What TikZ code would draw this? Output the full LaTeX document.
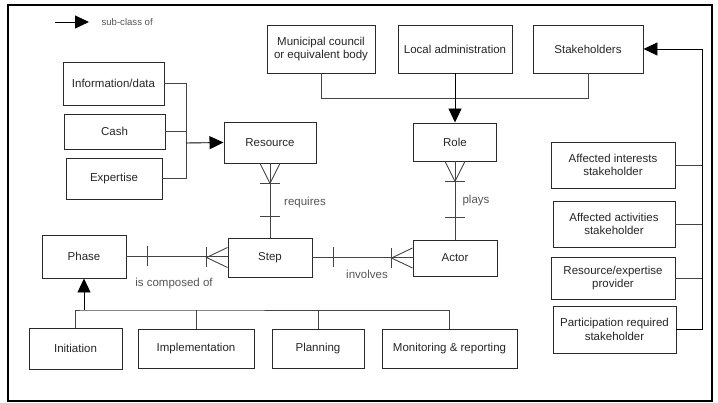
\documentclass[tikz,border=0pt]{standalone}
\usepackage{fontspec}
\setmainfont{Liberation Sans}
\usetikzlibrary{arrows.meta,calc}
\definecolor{boxline}{HTML}{2A2A2A}
\definecolor{conn}{HTML}{444444}
\definecolor{lbl}{HTML}{555555}
\tikzset{
  box/.style={draw=boxline, line width=0.95pt, rectangle, align=center, inner sep=2pt,
    font=\fontsize{11.5}{13.5}\selectfont, text=black!85},
  conline/.style={draw=conn, line width=0.9pt},
  subarrow/.style={conline, -{Triangle[length=14pt,width=13pt]}},
  rel/.style={text=lbl, font=\fontsize{11.5}{13}\selectfont},
}
\begin{document}
\begin{tikzpicture}[x=1pt,y=-1pt]
\useasboundingbox (0,0) rectangle (718,403);
\draw[line width=2.5pt, black] (8,5) rectangle (712,401);

% legend
\coordinate (lg1) at (55,22);
\coordinate (lg2) at (89,22);
\draw[subarrow, draw=black] (lg1) -- (lg2);
\node[anchor=west, text=lbl, font=\fontsize{9.6}{11}\selectfont] (lgt) at (98,22) {sub-class of};

% resource family
\node[box, minimum width=101pt, minimum height=43pt] (info) at (113.5,83.5) {Information/data};
\node[box, minimum width=101pt, minimum height=35pt] (cash) at (114.5,131.5) {Cash};
\node[box, minimum width=96pt, minimum height=41pt] (expertise) at (114,178.5) {Expertise};
\node[box, minimum width=92pt, minimum height=41pt] (resource) at (270,142.5) {Resource};
\coordinate (rbus) at (186,143);
\draw[conline] (info.east) -| (rbus);
\draw[conline] (cash.east) -| (rbus);
\draw[conline] (expertise.east) -| (rbus);
\draw[subarrow, draw=black] (rbus) -- (resource.west);

% top row
\node[box, minimum width=108pt, minimum height=48pt] (municipal) at (321,49) {Municipal council\\or equivalent body};
\node[box, minimum width=114pt, minimum height=48pt] (localadmin) at (455,49) {Local administration};
\node[box, minimum width=110pt, minimum height=48pt] (stake) at (588,49) {Stakeholders};
\node[box, minimum width=83pt, minimum height=38pt] (role) at (455,142) {Role};
\coordinate (tbusL) at (321,98);
\coordinate (tbusR) at (588,98);
\draw[conline] (municipal.south) -- (tbusL) -- (tbusR) -- (stake.south);
\draw[subarrow, draw=black] (localadmin.south) -- (role.north);

% step / actor / phase
\node[box, minimum width=84pt, minimum height=39pt] (step) at (270,257.5) {Step};
\node[box, minimum width=84pt, minimum height=36pt] (actor) at (455,258) {Actor};
\node[box, minimum width=84pt, minimum height=43pt] (phase) at (84,256.5) {Phase};

% resource - step (requires)
\draw[conline] (resource.south) -- (step.north);
\draw[conline] ($(resource.south)+(-10,0)$) -- ($(resource.south)+(0,20)$) -- ($(resource.south)+(10,0)$);
\draw[conline] ($(resource.south)+(-10,20)$) -- ($(resource.south)+(10,20)$);
\draw[conline] ($(step.north)+(-10,-21)$) -- ($(step.north)+(10,-21)$);
\node[rel] (lreq) at (305,203) {requires};

% role - actor (plays)
\draw[conline] (role.south) -- (actor.north);
\draw[conline] ($(role.south)+(-10,0)$) -- ($(role.south)+(0,20)$) -- ($(role.south)+(10,0)$);
\draw[conline] ($(role.south)+(-10,20)$) -- ($(role.south)+(10,20)$);
\draw[conline] ($(actor.north)+(-10,-22)$) -- ($(actor.north)+(10,-22)$);
\node[rel] (lplays) at (476,201) {plays};

% step - actor (involves)
\draw[conline] (step.east) -- (step.east -| actor.west);
\draw[conline] ($(actor.west)+(0,-10)$) -- ($(actor.west)+(-21,0)$) -- ($(actor.west)+(0,10)$);
\draw[conline] ($(actor.west)+(-21,-10)$) -- ($(actor.west)+(-21,10)$);
\draw[conline] ($(step.east)+(21,-10)$) -- ($(step.east)+(21,10)$);
\node[rel] (linv) at (367,274) {involves};

% phase - step (is composed of)
\draw[conline] (phase.east) -- (phase.east -| step.west);
\draw[conline] ($(step.west)+(0,-10)$) -- ($(step.west)+(-21,0)$) -- ($(step.west)+(0,10)$);
\draw[conline] ($(step.west)+(-21,-10)$) -- ($(step.west)+(-21,10)$);
\draw[conline] ($(phase.east)+(21,-10)$) -- ($(phase.east)+(21,10)$);
\node[rel] (lcomp) at (174,284) {is composed of};

% phase subclasses
\node[box, minimum width=93pt, minimum height=41pt] (init) at (75.5,348.5) {Initiation};
\node[box, minimum width=116pt, minimum height=39pt] (impl) at (196,348.5) {Implementation};
\node[box, minimum width=92pt, minimum height=39pt] (plan) at (318,348.5) {Planning};
\node[box, minimum width=135pt, minimum height=39pt] (mon) at (449.5,348.5) {Monitoring \& reporting};
\coordinate (pbus) at (84,310);
\draw[conline] (init.north) |- (pbus) -- (pbus -| mon.north) -- (mon.north);
\draw[conline] (impl.north) -- (impl.north |- pbus);
\draw[conline] (plan.north) -- (plan.north |- pbus);
\draw[subarrow, draw=black] (pbus) -- (phase.south);

% stakeholder subclasses
\node[box, minimum width=124pt, minimum height=46pt] (affint) at (613,165) {Affected interests\\stakeholder};
\node[box, minimum width=122pt, minimum height=46pt] (affact) at (614,224) {Affected activities\\stakeholder};
\node[box, minimum width=124pt, minimum height=42pt] (resprov) at (613,278) {Resource/expertise\\provider};
\node[box, minimum width=123pt, minimum height=47pt] (partreq) at (614.5,329.5) {Participation required\\stakeholder};
\coordinate (sx) at (702,0);
\draw[conline] (affint.east) -- (affint.east -| sx);
\draw[conline] (affact.east) -- (affact.east -| sx);
\draw[conline] (resprov.east) -- (resprov.east -| sx);
\draw[subarrow, draw=black] (partreq.east) -- (partreq.east -| sx) |- (stake.east);
\end{tikzpicture}
\end{document}
